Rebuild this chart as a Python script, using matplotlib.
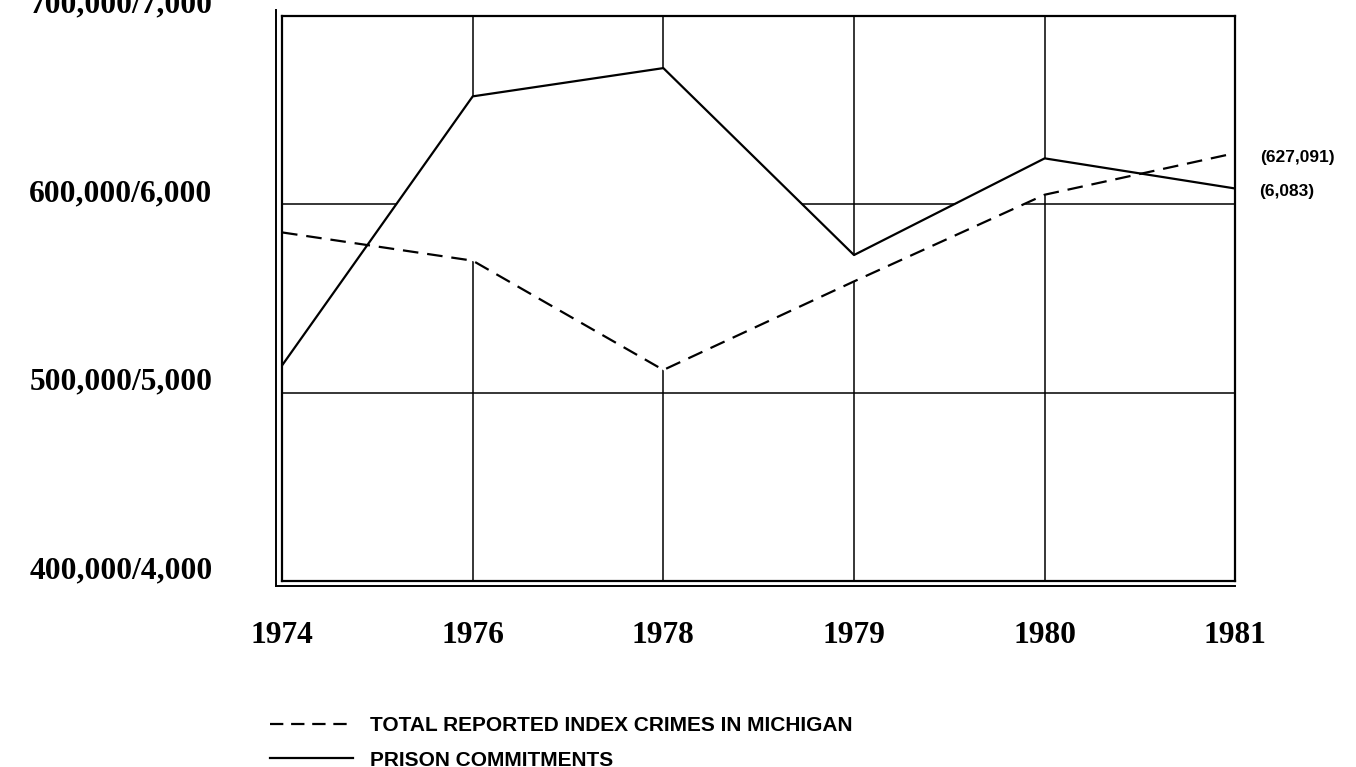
import numpy as np
import matplotlib
matplotlib.use("Agg")
import matplotlib.pyplot as plt
from matplotlib.lines import Line2D
from matplotlib.transforms import ScaledTranslation

# data (commitments drawn on the same scale x100)
years = ["1974", "1976", "1978", "1979", "1980", "1981"]
crimes = [585000, 570000, 512000, 559000, 605000, 627091]
commitments = [5144, 6572, 6722, 5730, 6243, 6083]
y_ticks = [400000, 500000, 600000, 700000]
y_labels = ["400,000/4,000", "500,000/5,000", "600,000/6,000", "700,000/7,000"]
legend_labels = ["TOTAL REPORTED INDEX CRIMES IN MICHIGAN", "PRISON COMMITMENTS"]

serif_b = dict(family="Liberation Serif", weight="bold", size=22.7)
sans_b = dict(family="Liberation Sans", weight="bold")

fig = plt.figure(figsize=(13.56, 7.67), dpi=100)
ax = fig.add_axes([0.208, 0.2425, 0.703, 0.737])

x = np.arange(len(years))
comm_scaled = np.array(commitments) * 100

ax.set_xlim(0, len(years) - 1)
ax.set_ylim(400000, 700000)
ax.set_xticks(x)
ax.set_xticklabels(years, fontdict=serif_b)
ax.set_yticks(y_ticks)
ax.set_yticklabels(y_labels, fontdict=serif_b)
ax.tick_params(length=0)
ax.tick_params(axis="x", pad=29)
ax.tick_params(axis="y", pad=50)

# lift y labels a bit above their lines
up = ScaledTranslation(0, 14 / 100, fig.dpi_scale_trans)
for lab in ax.get_yticklabels():
    lab.set_transform(lab.get_transform() + up)

ax.set_axisbelow(True)
ax.grid(True, color="black", lw=1.1)

# grid is blank between the two curves in the original
ax.fill_between(x, crimes, comm_scaled, color="white", lw=0, zorder=1)

ax.plot(x, comm_scaled, color="black", lw=1.6, zorder=2)
ax.plot(x, crimes, color="black", lw=1.6, dashes=(7, 4), zorder=2)

for s in ax.spines.values():
    s.set_linewidth(1.6)
    s.set_color("black")

# double rule on left and bottom
ax.plot([-0.0065, -0.0065], [-0.009, 1.01], transform=ax.transAxes,
        color="black", lw=1.4, clip_on=False)
ax.plot([-0.0065, 1.0], [-0.009, -0.009], transform=ax.transAxes,
        color="black", lw=1.4, clip_on=False)

ax.annotate("(627,091)", xy=(x[-1], crimes[-1]), xytext=(18, -3),
            textcoords="offset points", va="center", ha="left",
            fontsize=12.5, **sans_b)
ax.annotate("(6,083)", xy=(x[-1], comm_scaled[-1]), xytext=(17, -2),
            textcoords="offset points", va="center", ha="left",
            fontsize=12.5, **sans_b)

handles = [Line2D([], [], color="black", lw=1.6, dashes=(6, 3.5)),
           Line2D([], [], color="black", lw=1.6)]
fig.legend(handles, legend_labels, loc="upper left",
           bbox_to_anchor=(270 / 1356, 1 - 716 / 767), frameon=False,
           prop=dict(size=15.0, **sans_b), handlelength=4.0,
           handletextpad=0.8, labelspacing=0.75, borderpad=0, borderaxespad=0)

fig.savefig("out.png", dpi=100, facecolor="white")
